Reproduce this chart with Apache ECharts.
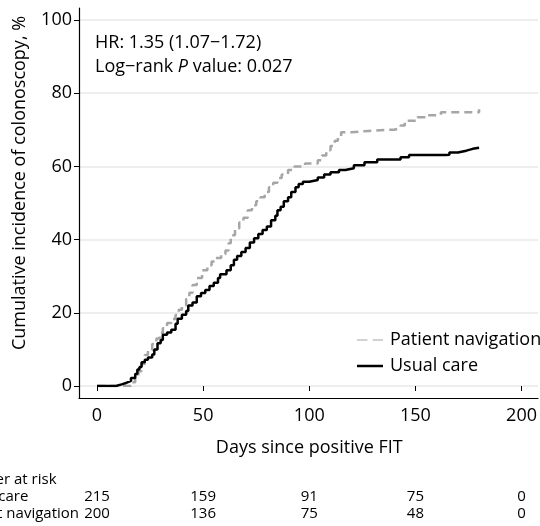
<!DOCTYPE html>
<html><head><meta charset="utf-8">
<script src="https://cdn.jsdelivr.net/npm/echarts@6/dist/echarts.min.js"></script>
<style>html,body{margin:0;padding:0;background:#fff}#c{width:540px;height:526px}</style>
</head><body><div id="c"></div>
<script>
// Usual care (solid black) – cumulative incidence, %
const usualDays = [0,9,12,14,16,18,19,20,21,22.5,24,26,27,28.5,30,31,33,35,37,38,40,42,43,45,47,49,51,53,55,57,58,61,63,64.5,66,68,70,72,74,76,78,80,82,84,85,86.5,88,90,91.5,93.5,95,97,100,104,107,110,114,117,121,126,132,143,147,164,166,170,174,177,180];
const usualVals = [0,0.5,0.9,1.4,2.2,3.3,4.5,5.2,6.5,7.2,7.8,8.6,10,11.7,12.6,14,14.6,15.4,17,18.4,19.5,20.5,22,22.8,24.5,25.4,26.2,27.3,28.2,29.5,30.5,31.6,33,34.5,35.5,36.6,37.7,39.2,40.4,41.5,42.6,43.6,45.3,46.5,48,49,50.5,51.6,53,54.3,55.2,55.8,56.3,57,57.8,58.4,59,59.5,60.3,61.1,61.9,62.5,63.1,63.2,63.8,64.3,64.8,65.1,65.1];
// Patient navigation (dashed grey)
const navDays = [0,14,16,18,19.5,21,22.5,24,26,28,29.5,31,33,35,37,38.5,40,42,43.5,45,47,49.5,52,54,56,58.5,60.5,62,63,65,67,69,71,73,75,77,79,81,83,85,87,90,93,98,104,106,108,110,112,113.5,115,120,128,137,140,143,145,151,156,162,180];
const navVals = [0,0,1,2.5,4,6,8.5,9.8,11.5,13,14.5,15.8,17.2,18.3,19.4,20.8,22,23.8,25.5,27.6,29.5,31.6,33,34,35,36,37,39,41.2,43,44.7,46,48,49.4,50.5,51.6,53,54.3,55.5,56.8,57.8,59,60,60.8,61.7,63,64.4,65.6,67,68.2,69.3,69.7,70,70,70.5,71.2,72.5,73.4,74,74.8,75.6,75.6];

const seriesNames = ['Patient navigation', 'Usual care'];
const xTicks = [0, 50, 100, 150, 200];
const riskRowLabels = ['Usual care', 'Patient navigation'];
const riskUsual = [215, 159, 91, 75, 0];
const riskNav = [200, 136, 75, 48, 0];
const riskTitle = 'Number at risk';
const yTitle = 'Cumulative incidence of colonoscopy, %';
const xTitle = 'Days since positive FIT';

const FONT = 'Open Sans';
const FS = 18;
const zip = (a, b) => a.map((v, i) => [v, b[i]]);

const chart = echarts.init(document.getElementById('c'), null, {renderer: 'canvas'});
const option = {
  animation: false,
  textStyle: {fontFamily: FONT, color: '#000'},
  grid: [
    {left: 79, right: 2, top: 20, bottom: 140},
    {left: 97, right: 15, top: 20, bottom: 140},
    {left: 79, right: 2, top: 8, bottom: 128}
  ],
  xAxis: [
    {gridIndex: 0, type: 'value', min: 0, max: 1, show: false},
    {gridIndex: 1, type: 'value', min: xTicks[0], max: xTicks[xTicks.length - 1], interval: 50, offset: 12,
      axisLine: {show: false},
      axisTick: {show: true, length: 5, lineStyle: {color: '#000', width: 1}},
      axisLabel: {fontSize: FS, color: '#000', margin: 9, fontFamily: FONT},
      splitLine: {show: false},
      name: xTitle, nameLocation: 'middle', nameGap: 41,
      nameTextStyle: {fontSize: FS, color: '#000', fontFamily: FONT}},
    {gridIndex: 2, type: 'value', min: 0, max: 1,
      axisLine: {show: true, lineStyle: {color: '#000', width: 1.2}},
      axisTick: {show: false}, axisLabel: {show: false}, splitLine: {show: false}}
  ],
  yAxis: [
    {gridIndex: 0, type: 'value', min: 0, max: 100, interval: 20,
      axisLine: {show: false},
      axisTick: {show: true, length: 5, lineStyle: {color: '#000', width: 1}},
      axisLabel: {fontSize: FS, color: '#000', margin: 7, fontFamily: FONT},
      splitLine: {show: true, lineStyle: {color: '#e8e8e8', width: 1.5}}},
    {gridIndex: 1, type: 'value', min: 0, max: 100, show: false},
    {gridIndex: 2, type: 'value', min: 0, max: 1,
      axisLine: {show: true, lineStyle: {color: '#000', width: 1.2}},
      axisTick: {show: false}, axisLabel: {show: false}, splitLine: {show: false}}
  ],
  legend: {
    orient: 'vertical', left: 352, top: 324, itemWidth: 26, itemHeight: 2.5, itemGap: 4,
    data: [
      {name: seriesNames[0], icon: 'path://M0,0h10v1h-10z M15,0h10v1h-10z'},
      {name: seriesNames[1], icon: 'rect'}
    ],
    textStyle: {fontSize: FS, color: '#000', fontFamily: FONT, lineHeight: 22, padding: [0, 0, 0, 2]}
  },
  series: [
    {name: seriesNames[0], type: 'line', xAxisIndex: 1, yAxisIndex: 1, step: 'end', symbol: 'none',
      data: zip(navDays, navVals),
      lineStyle: {color: '#a6a6a6', width: 2.5, type: [8, 5]}, itemStyle: {color: '#a6a6a6'}},
    {name: seriesNames[1], type: 'line', xAxisIndex: 1, yAxisIndex: 1, step: 'end', symbol: 'none',
      data: zip(usualDays, usualVals),
      lineStyle: {color: '#000', width: 2.5}, itemStyle: {color: '#000'}}
  ]
};
chart.setOption(option);

// annotation, y title and risk table (x positions through the x axis scale)
const g = [];
const font = (s) => s + 'px "' + FONT + '"';
g.push({type: 'text', left: 95, top: 34, style: {
  text: 'HR: 1.35 (1.07\u22121.72)', font: font(FS), fill: '#000'}});
g.push({type: 'text', left: 95, top: 58, style: {
  text: '{n|Log\u2212rank }{i|P}{n| value: 0.027}', font: font(FS), fill: '#000',
  rich: {n: {fontSize: FS, fontFamily: FONT}, i: {fontSize: FS, fontFamily: FONT, fontStyle: 'italic'}}}});
g.push({type: 'text', x: 20, y: 183, rotation: Math.PI / 2, style: {
  text: yTitle, font: font(FS), fill: '#000', align: 'center', verticalAlign: 'middle'}});
const RF = 15;
const labX = [-48, -45, -47];
const rowY = [480, 497, 514];
g.push({type: 'text', x: labX[0], y: rowY[0], style: {text: riskTitle, font: font(RF), fill: '#000', verticalAlign: 'middle'}});
[riskUsual, riskNav].forEach((row, r) => {
  g.push({type: 'text', x: labX[r + 1], y: rowY[r + 1], style: {text: riskRowLabels[r], font: font(RF), fill: '#000', verticalAlign: 'middle'}});
  row.forEach((v, i) => {
    const px = chart.convertToPixel({xAxisIndex: 1}, xTicks[i]);
    g.push({type: 'text', x: px, y: rowY[r + 1], style: {text: String(v), font: font(RF), fill: '#000', align: 'center', verticalAlign: 'middle'}});
  });
});
chart.setOption({graphic: g});
</script>
</body></html>
